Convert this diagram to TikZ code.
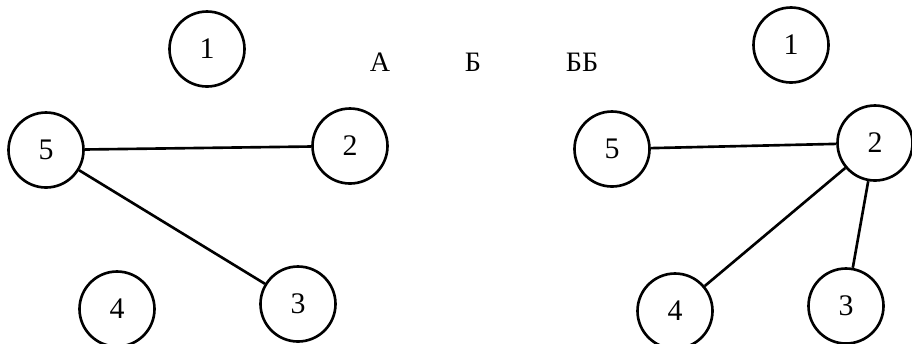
\documentclass[tikz,border=0pt]{standalone}
\usepackage{fontspec}
\setmainfont{Liberation Serif}
\usetikzlibrary{positioning}
\begin{document}
\begin{tikzpicture}[x=1cm,y=1cm]
\tikzset{
  graphnode/.style={circle,draw,line width=0.75pt,minimum size=7.5mm,inner sep=0pt,font=\fontsize{8.5}{10}\selectfont},
  caption/.style={font=\fontsize{8}{10}\selectfont},
  undirected/.style={line width=0.75pt}
}
\useasboundingbox (0,0) rectangle (9.12,-3.43);
\node[graphnode] (n_a1) at (2.07,-0.49) {1};
\node[graphnode] (n_a2) at (3.50,-1.46) {2};
\node[graphnode] (n_a3) at (2.98,-3.04) {3};
\node[graphnode] (n_a4) at (1.17,-3.09) {4};
\node[graphnode] (n_a5) at (0.46,-1.50) {5};
\node[graphnode] (n_b1) at (7.91,-0.45) {1};
\node[graphnode] (n_b2) at (8.75,-1.43) {2};
\node[graphnode] (n_b3) at (8.46,-3.06) {3};
\node[graphnode] (n_b4) at (6.75,-3.11) {4};
\node[graphnode] (n_b5) at (6.12,-1.49) {5};
\node[caption] (t_a) at (3.80,-0.62) {А};
\node[caption] (t_b) at (4.73,-0.62) {Б};
\node[caption] (t_bb) at (5.82,-0.62) {ББ};
\draw[undirected] (n_a5) -- (n_a2);
\draw[undirected] (n_a5) -- (n_a3);
\draw[undirected] (n_b5) -- (n_b2);
\draw[undirected] (n_b2) -- (n_b4);
\draw[undirected] (n_b2) -- (n_b3);
\end{tikzpicture}
\end{document}
